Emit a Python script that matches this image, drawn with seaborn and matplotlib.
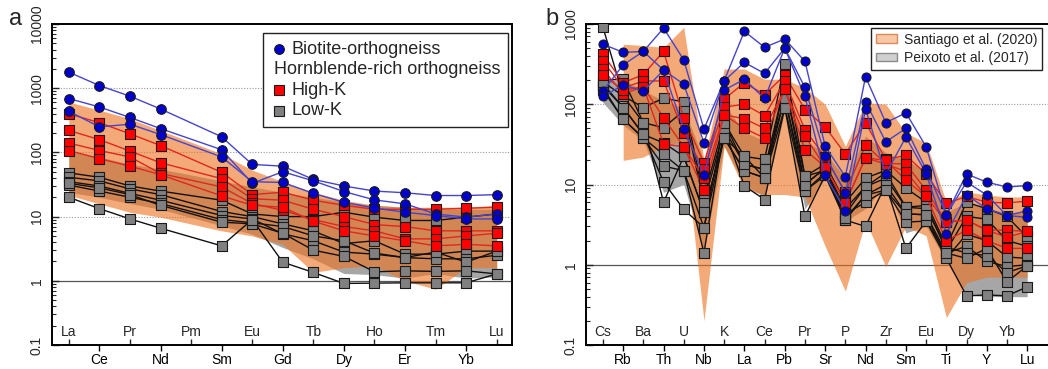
import numpy as np
import pandas as pd
import matplotlib
matplotlib.use("Agg")
import matplotlib.pyplot as plt
import seaborn as sns
from matplotlib.patches import Patch, Rectangle
from matplotlib.lines import Line2D
from matplotlib.ticker import FixedLocator, FixedFormatter, LogLocator, NullFormatter

N = None

# ---- panel a: chondrite-normalised REE ----
ree = ['La', 'Ce', 'Pr', 'Nd', 'Pm', 'Sm', 'Eu', 'Gd', 'Tb', 'Dy', 'Ho', 'Er', 'Tm', 'Yb', 'Lu']
ree_biotite = [
    [1780, 1100, 750, 475, N, 175, 65, 61, 38, 30, 25, 23.5, 21.3, 21.3, 22],
    [690, 510, 350, 235, N, 110, 33, 50, 36, 24.6, 18.2, 15.8, 11, 9.8, 11],
    [437, 250, 275, 190, N, 85, 35, 34, 23, 16.7, 13.6, 11.7, 10.4, 9.2, 9.2],
]
ree_high_k = [
    [400, 290, 195, 128, N, 49, 22, 24, 18, 15, 13, 13, 13, 13.5, 14],
    [220, 158, 105, 69, N, 39, 19, 18, 13, 10, 7.5, 7, 6, 6, 6],
    [140, 107, 85, 47, N, 29, 16, 12.5, 9, 7, 6, 4.5, 4.5, 5, 5.5],
    [107, 80, 61, 45, N, 21, 15, 14, 8.5, 6, 5, 4.2, 3.5, 3.7, 3.5],
]
ree_low_k = [
    [48, 41, 30, 25, N, 18, 11, 10, 10, 11.7, 9.8, 8.7, 8.7, 9.8, 11],
    [41, 36, 27, 22, N, 12, 10, 7.7, 6, 3.8, 4.2, 2.6, 2.6, 2.9, 2.9],
    [35, 30, 23, 18, N, 10.4, 9.2, 5.4, 4.2, 2.8, 2.6, 2.3, 2.2, 2.2, 2.5],
    [31, 25, 20, 16, N, 9, 8, 7, 5, 4.2, 2.7, 2.3, 2.8, 1.95, 2.9],
    [33, 28, 22, 15, N, 8.2, 7.7, 5.5, 3, 2.4, 1.38, 1.43, 1.4, 1.43, 1.28],
    [20, 13.3, 9.2, 6.6, N, 3.5, 9, 1.95, 1.35, 0.91, 0.92, 0.93, 0.93, 0.93, 1.28],
]
ree_santiago_hi = [610, 455, 335, 220, N, 95, 53, 35, 24, 18, 15, 14, 14, 14, 15]
ree_santiago_lo = [21.5, 15.8, 11.7, 9.8, N, 6, 5, 3.7, 1.35, 1.6, 1.7, 1.0, 0.74, 1.6, 1.6]
ree_peixoto_hi = [107, 85, 66, 55, N, 36, 29, 24, 20, 17, 15, 14, 13, 13, 13]
ree_peixoto_lo = [24, 20, 16, 13, N, 7.2, 5.3, 3.3, 2.2, 1.3, 1.25, 1.1, 1.3, 1.1, 1.15]

# ---- panel b: primitive-mantle-normalised multi-element ----
mim = ['Cs', 'Rb', 'Ba', 'Th', 'U', 'Nb', 'K', 'La', 'Ce', 'Pb', 'Pr', 'Sr', 'P', 'Nd',
       'Zr', 'Sm', 'Eu', 'Ti', 'Dy', 'Y', 'Yb', 'Lu']
mim_biotite = [
    [560, 443, 455, 890, 357, 49, 196, 810, 512, 650, 342, 30, 12.5, 220, 59, 78, 29.5, 4.2, 13.5, 10.7, 9.3, 9.7],
    [146, 310, 455, 266, 178, 33, 196, 332, 242, 500, 162, 22.7, 7.9, 107, 34, 50, 15.4, 4.2, 10.7, 7.4, 4.1, 4.7],
    [125, 174, 146, 266, 49, 13, 150, 205, 118, 500, 125, 13, 4.7, 87, 13.5, 39, 13.7, 2.4, 7.4, 5.0, 4.1, 3.9],
]
mim_high_k = [
    [420, 185, 235, 455, 68, 18.6, 116, 185, 132, 230, 86, 52, 24, 59, 20.6, 23, 13.5, 5.8, 7.1, 6.0, 5.9, 6.2],
    [345, 160, 195, 195, 44, 15.5, 92, 100, 72, 195, 48, 22, 8, 31, 18.3, 18, 8.5, 3.4, 3.6, 2.7, 2.7, 2.6],
    [272, 135, 165, 68, 29.5, 8.5, 74, 66, 50, 153, 40, 16.6, 5.9, 21.5, 18, 14.5, 7.1, 2.0, 2.7, 2.0, 1.6, 1.6],
    [230, 150, 165, 32, 29.5, 12, 74, 50, 38, 153, 27, 16.6, 5.9, 21.5, 20, 11.3, 7.1, 3.4, 3.6, 2.7, 2.2, 2.6],
]
mim_low_k = [
    [910, 127, 91, 119, 107, 7, 59, 22.4, 20.5, 316, 12.6, 18, 6, 12, 15, 9, 6, 1.7, 6, 5, 4, 2.2],
    [200, 205, 59, 51, 83, 5.9, 49, 17.8, 15.4, 178, 10, 16, 4.3, 9.4, 12, 5.2, 5.5, 1.5, 4, 3.7, 2, 1.7],
    [180, 91, 42, 33, 22.4, 4.5, 38, 14.8, 12.1, 121, 8.3, 14, 3.6, 7.4, 10, 4.3, 4.2, 1.2, 2.4, 2, 1.25, 1.2],
    [160, 65, 38, 23.7, 14.8, 2.9, 38, 14.8, 12.1, 91, 8.3, 13, 4.3, 6, 8.5, 3.4, 3.5, 1.4, 1.7, 1.1, 0.95, 1.0],
    [150, 65, 38, 17, 14.8, 1.4, 49, 9.6, 6.5, 91, 4.0, 13, 3.6, 3.0, 10, 1.6, 3.5, 1.2, 0.41, 0.42, 0.41, 0.53],
    [170, 91, 42, 10.7, 4.9, 2.9, 59, 17.8, 15.4, 121, 10, 16, 5, 9.4, 14, 5.2, 5, 1.65, 1.4, 1.3, 0.8, 0.97],
    [190, 127, 59, 6, 22.4, 4.5, 38, 22.4, 12.1, 178, 12.6, 15, 3.8, 7.4, 8.5, 4.3, 4.2, 1.4, 1.2, 1.6, 0.61, 0.97],
]
mim_santiago_hi = [N, 560, 540, 510, 910, 20, 275, 275, 205, 205, 160, 100, 30, 105, 100, 44, 33, 6, 8.1, 7.4, 7, 7]
mim_santiago_lo = [N, 20, 22, 30, 35, 0.2, 30, 8.7, 7.5, 7.5, 7, 1.7, 0.47, 3.5, 0.95, 3.0, 2.3, 0.22, 0.6, 0.7, 0.7, 0.7]
mim_peixoto_hi = [200, 200, 150, 110, 90, 20, 100, 45, 35, 200, 35, 25, 12, 40, 25, 20, 15, 4.5, 6, 5, 4.5, 4.5]
mim_peixoto_lo = [105, 55, 35, 8, 10, 1.5, 30, 10, 7, 80, 5, 12, 3.5, 5, 10, 2.5, 3, 1.1, 0.42, 0.4, 0.4, 0.4]

# line colour, marker face, marker shape
styles = {
    'low':  ('#111111', '#808080', 's'),
    'high': ('#E3261E', '#FF0000', 's'),
    'bio':  ('#4444CC', '#0000CC', 'o'),
}

sns.set_theme(style='white')
plt.rcParams['font.family'] = ['Liberation Sans', 'DejaVu Sans']


def long_form(rows, group):
    recs = []
    for k, row in enumerate(rows):
        for i, v in enumerate(row):
            if v is not None:
                recs.append({'group': group, 'sample': f'{group}{k}', 'pos': i, 'value': v})
    return pd.DataFrame(recs)


def band(ax, hi, lo, **kw):
    x = [i for i in range(len(hi)) if hi[i] is not None]
    ax.fill_between(x, [lo[i] for i in x], [hi[i] for i in x], linewidth=0, **kw)


def panel(ax, labels, groups, santiago, peixoto, ymax, xlim, ms):
    ax.set_yscale('log')
    band(ax, *peixoto, color='#A6A6A6', zorder=1)
    band(ax, *santiago, color='#EE711E', alpha=0.6, zorder=1.5)

    z = 3
    for name, rows in groups:
        lc, fc, mk = styles[name]
        df = long_form(rows, name)
        sns.lineplot(data=df, x='pos', y='value', units='sample', estimator=None,
                     color=lc, linewidth=1.0, ax=ax, zorder=z, legend=False)
        sns.scatterplot(data=df, x='pos', y='value', marker=mk, color=fc,
                        edgecolor='#1a1a1a', linewidth=0.8, s=ms, ax=ax,
                        zorder=z + 1, legend=False)
        z += 2

    decades = [10.0 ** k for k in range(-1, int(np.log10(ymax)) + 1)]
    for d in decades[2:-1]:
        ax.axhline(d, color='#9a9a9a', lw=0.8, ls=(0, (1, 1.5)), zorder=0.5)
    ax.axhline(1, color='#555555', lw=0.9, zorder=0.5)

    ax.set_ylim(0.1, ymax)
    ax.set_xlim(*xlim)
    ax.set_xlabel('')
    ax.set_ylabel('')

    n = len(labels)
    ax.set_xticks(list(range(1, n, 2)))
    ax.set_xticklabels(labels[1::2], fontsize=10)
    ax.set_xticks(list(range(0, n, 2)), minor=True)
    ax.tick_params(axis='x', which='major', direction='out', length=4, width=1,
                   pad=2, bottom=True, colors='black')
    ax.tick_params(axis='x', which='minor', direction='in', length=4, width=1, bottom=True)
    for i in range(0, n, 2):
        ax.text(i, 0.028, labels[i], transform=ax.get_xaxis_transform(),
                ha='center', va='baseline', fontsize=10)

    ax.yaxis.set_major_locator(FixedLocator(decades))
    ax.yaxis.set_major_formatter(FixedFormatter([f'{d:g}' for d in decades]))
    ax.yaxis.set_minor_locator(LogLocator(base=10, subs=np.arange(2, 10), numticks=20))
    ax.yaxis.set_minor_formatter(NullFormatter())
    ax.tick_params(axis='y', which='major', direction='in', length=5, width=1,
                   labelsize=10, pad=6, left=True)
    ax.tick_params(axis='y', which='minor', direction='in', length=3, width=0.8, left=True)
    for lab in ax.get_yticklabels():
        lab.set_rotation(90)
        lab.set_va('center')
    for sp in ax.spines.values():
        sp.set_color('black')
        sp.set_linewidth(1.4)
    ax.grid(False)


fig = plt.figure(figsize=(10.48, 3.69), dpi=100)
ax_a = fig.add_axes([52 / 1048, 24 / 369, 460 / 1048, 321 / 369])
ax_b = fig.add_axes([586 / 1048, 24 / 369, 466 / 1048, 321 / 369])

panel(ax_a, ree, [('low', ree_low_k), ('high', ree_high_k), ('bio', ree_biotite)],
      (ree_santiago_hi, ree_santiago_lo), (ree_peixoto_hi, ree_peixoto_lo),
      10000, (-0.55, 14.5), 48)
panel(ax_b, mim, [('low', mim_low_k), ('high', mim_high_k), ('bio', mim_biotite)],
      (mim_santiago_hi, mim_santiago_lo), (mim_peixoto_hi, mim_peixoto_lo),
      1000, (-0.84, 22.23), 42)

# legend of panel a, drawn by hand so the heading row has no symbol
tr = ax_a.transAxes
ax_a.add_patch(Rectangle((0.459, 0.679), 0.532, 0.293, transform=tr, facecolor='white',
                         edgecolor='#222222', lw=1.0, zorder=20))
rows_a = [('bio', 'Biotite-orthogneiss', 0.922), (None, 'Hornblende-rich orthogneiss', 0.857),
          ('high', 'High-K', 0.794), ('low', 'Low-K', 0.729)]
for key, text, yy in rows_a:
    if key is None:
        ax_a.text(0.482, yy, text, transform=tr, fontsize=13, va='center', ha='left', zorder=21)
    else:
        lc, fc, mk = styles[key]
        ax_a.plot([0.4935], [yy], marker=mk, ms=7 if mk == 'o' else 6.5, color=fc,
                  mec='#1a1a1a', mew=0.8, transform=tr, zorder=21, clip_on=False)
        ax_a.text(0.521, yy, text, transform=tr, fontsize=13, va='center', ha='left', zorder=21)

# legend of panel b
handles = [Patch(facecolor='#F9C9A6', edgecolor='#D98A5C', label='Santiago et al. (2020)'),
           Patch(facecolor='#D0D0D0', edgecolor='#8C8C8C', label='Peixoto et al. (2017)')]
leg = ax_b.legend(handles=handles, loc='upper right', bbox_to_anchor=(0.9785, 0.988),
                  fontsize=10, frameon=True, fancybox=False, edgecolor='#222222',
                  framealpha=1, borderaxespad=0, handlelength=1.5, handleheight=0.6,
                  handletextpad=0.5, borderpad=0.35, labelspacing=0.3)
leg.get_frame().set_linewidth(1.0)
leg.set_zorder(20)

fig.text(0.009, 0.932, 'a', fontsize=17)
fig.text(0.520, 0.932, 'b', fontsize=17)

fig.savefig('out.png', dpi=100)
